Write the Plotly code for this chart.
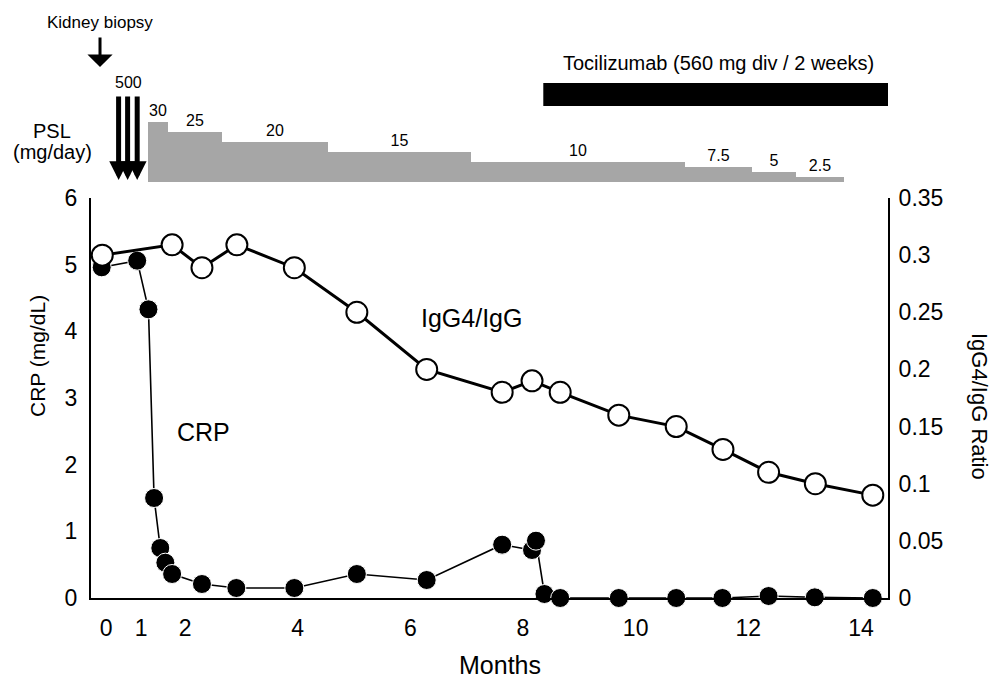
import plotly.graph_objects as go
import numpy as np

# ---------------- data ----------------
crp_months = [0.52, 1.15, 1.35, 1.45, 1.56, 1.65, 1.77, 2.30, 2.91, 3.94, 5.05, 6.29,
              7.63, 8.16, 8.23, 8.38, 8.66, 9.70, 10.72, 11.54, 12.36, 13.18, 14.21]
crp_values = [4.96, 5.06, 4.33, 1.50, 0.75, 0.53, 0.36, 0.21, 0.15, 0.15, 0.36, 0.27,
              0.80, 0.72, 0.86, 0.06, 0.0, 0.0, 0.0, 0.0, 0.03, 0.01, 0.0]

igg_months = [0.53, 1.77, 2.30, 2.92, 3.94, 5.05, 6.29, 7.63, 8.16, 8.66, 9.70, 10.72,
              11.55, 12.36, 13.19, 14.21]
igg_ratio = [0.300, 0.309, 0.289, 0.309, 0.289, 0.250, 0.200, 0.180, 0.190, 0.180,
             0.160, 0.150, 0.130, 0.110, 0.100, 0.090]

psl_start = [1.35, 1.70, 2.66, 4.53, 7.08, 10.88, 12.07, 12.85]
psl_end = [1.70, 2.66, 4.53, 7.08, 10.88, 12.07, 12.85, 13.70]
psl_dose = [30, 25, 20, 15, 10, 7.5, 5, 2.5]
psl_labels = ["30", "25", "20", "15", "10", "7.5", "5", "2.5"]

pulse_months = [0.82, 0.98, 1.15]
pulse_label = "500"
biopsy_month = 0.49
toci_start = 8.36
toci_end = 14.48

x_tick_vals = [0.6, 1.22, 2, 4, 6, 8, 10, 12, 14]
x_tick_text = ["0", "1", "2", "4", "6", "8", "10", "12", "14"]
crp_ticks = [0, 1, 2, 3, 4, 5, 6]
ratio_ticks = [0, 0.05, 0.1, 0.15, 0.2, 0.25, 0.3, 0.35]
ratio_tick_text = ["0", "0.05", "0.1", "0.15", "0.2", "0.25", "0.3", "0.35"]

# ---------------- layout geometry ----------------
OFF = 8  # page body margin of the html page
W_FIG, H_FIG = 1006 - OFF, 680 - OFF
ML, MR, MT, MB = 91 - OFF, 118, 10 - OFF, 82
PW = W_FIG - ML - MR
PH = H_FIG - MT - MB
FONT = "Liberation Sans, Arial, sans-serif"


def px_x(px):
    return (px - OFF - ML) / PW


def px_y(py):
    return (H_FIG - MB - (py - OFF)) / PH


main_top = px_y(198)
top_bottom = px_y(182)
y3_max = PH * (1 - top_bottom) / 2.0   # 2 px per mg

fig = go.Figure()

# PSL dose bars
starts = np.array(psl_start)
ends = np.array(psl_end)
fig.add_trace(go.Bar(
    x=(starts + ends) / 2, y=psl_dose, width=ends - starts,
    xaxis="x", yaxis="y3",
    marker=dict(color="#a6a6a6", line=dict(width=0)),
    text=psl_labels, textposition="outside", constraintext="none",
    textfont=dict(size=16, color="black", family=FONT),
    cliponaxis=False, showlegend=False, hoverinfo="skip",
))

# CRP
fig.add_trace(go.Scatter(
    x=crp_months, y=crp_values, xaxis="x", yaxis="y",
    mode="lines+markers",
    line=dict(color="black", width=1.6),
    marker=dict(size=19, color="black", line=dict(color="white", width=1)),
    cliponaxis=False, showlegend=False,
))

# IgG4/IgG ratio
fig.add_trace(go.Scatter(
    x=igg_months, y=igg_ratio, xaxis="x", yaxis="y2",
    mode="lines+markers",
    line=dict(color="black", width=3),
    marker=dict(size=21, color="white", line=dict(color="black", width=2)),
    cliponaxis=False, showlegend=False,
))

# Tocilizumab bar
fig.add_shape(type="rect", xref="x", yref="y3", x0=toci_start, x1=toci_end,
              y0=38, y1=49.5, fillcolor="black", line=dict(width=0))

annotations = []
# steroid pulse arrows
for p in pulse_months:
    annotations.append(dict(
        x=p, y=1, xref="x", yref="y3", ax=p, ay=43.5, axref="x", ayref="y3",
        text="", showarrow=True, arrowhead=2, arrowwidth=5, arrowsize=0.75,
        arrowcolor="black"))
# biopsy arrow
annotations.append(dict(
    x=biopsy_month, y=57.5, xref="x", yref="y3", ax=biopsy_month, ay=73,
    axref="x", ayref="y3", text="", showarrow=True, arrowhead=1,
    arrowwidth=3, arrowsize=1.4, arrowcolor="black"))


def label(text, px, py, size, angle=0):
    annotations.append(dict(
        text=text, x=px_x(px), y=px_y(py), xref="paper", yref="paper",
        xanchor="center", yanchor="middle", showarrow=False, textangle=angle,
        font=dict(size=size, color="black", family=FONT)))


label("Kidney biopsy", 100, 22, 17)
label(pulse_label, 128, 82, 16)
label("Tocilizumab (560 mg div / 2 weeks)", 718, 63, 20)
label("PSL", 52, 131, 20)
label("(mg/day)", 52, 152, 20)
label("CRP", 203, 432, 25)
label("IgG4/IgG", 471, 318, 25)
label("Months", 500, 665, 25)
label("CRP (mg/dL)", 37, 356, 21, -90)
label("IgG4/IgG Ratio", 980, 406, 22, 90)

fig.update_layout(
    width=W_FIG, height=H_FIG,
    margin=dict(l=ML, r=MR, t=MT, b=MB, pad=0, autoexpand=False),
    paper_bgcolor="white", plot_bgcolor="white",
    font=dict(family=FONT, color="black"),
    showlegend=False,
    xaxis=dict(range=[0.33, 14.48], tickvals=x_tick_vals, ticktext=x_tick_text,
               showgrid=False, zeroline=False, showline=True, linecolor="black",
               linewidth=2, ticks="outside", ticklen=8, tickcolor="rgba(0,0,0,0)",
               tickfont=dict(size=23), anchor="y", automargin=False),
    yaxis=dict(domain=[0, main_top], range=[0, 6], tickvals=crp_ticks,
               showgrid=False, zeroline=False, showline=True, linecolor="black",
               linewidth=2, ticks="outside", ticklen=7, tickcolor="rgba(0,0,0,0)",
               tickfont=dict(size=23), anchor="x", automargin=False),
    yaxis2=dict(domain=[0, main_top], range=[0, 0.35], overlaying="y", side="right",
                tickvals=ratio_ticks, ticktext=ratio_tick_text,
                showgrid=False, zeroline=False, showline=True, linecolor="black",
                linewidth=2, ticks="outside", ticklen=4, tickcolor="rgba(0,0,0,0)",
                tickfont=dict(size=23), anchor="x", automargin=False),
    yaxis3=dict(domain=[top_bottom, 1], range=[0, y3_max],
                visible=False, anchor="x", automargin=False),
    annotations=annotations,
    bargap=0,
)

fig.write_html("out.html")
